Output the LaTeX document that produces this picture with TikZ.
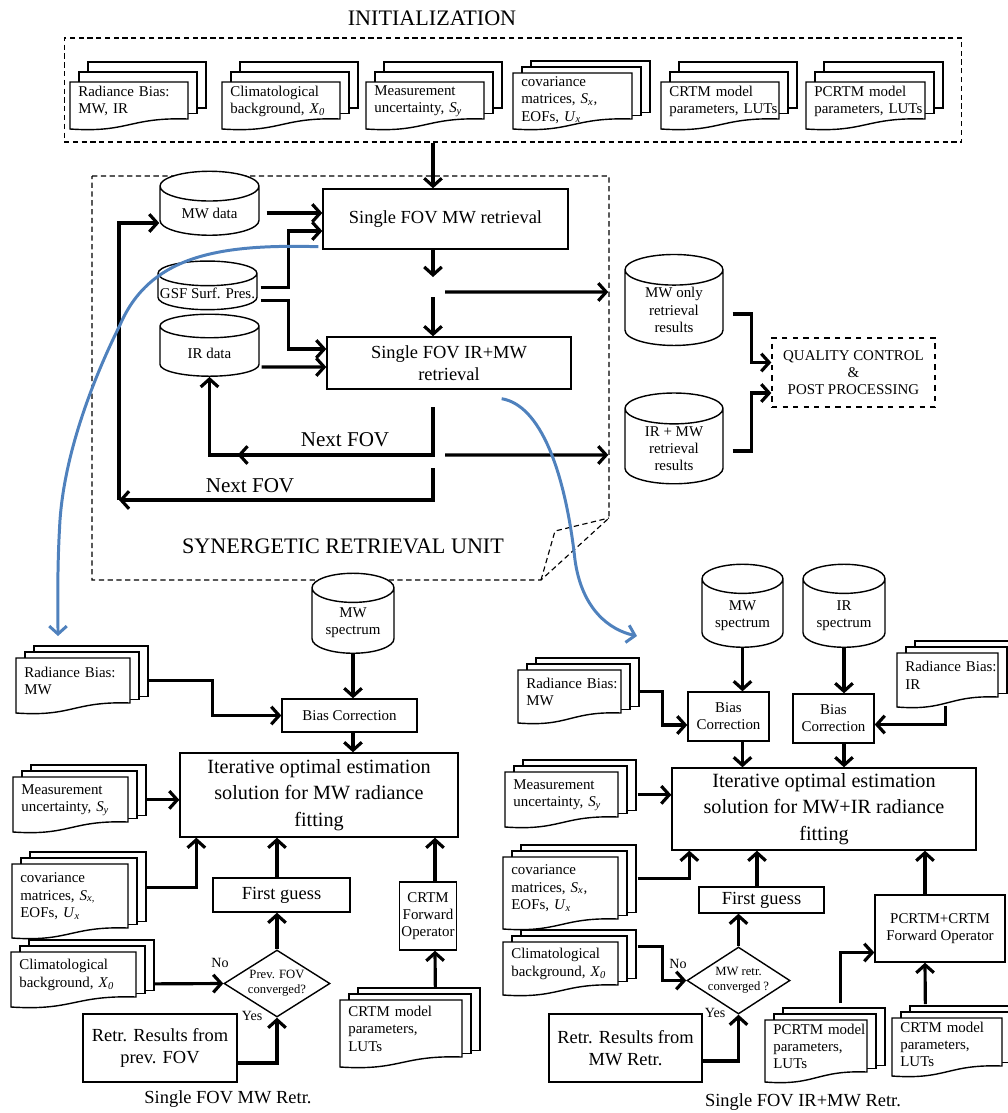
\documentclass[tikz,border=0pt]{standalone}
\usepackage{fontspec}
\setmainfont{Liberation Serif}
\usetikzlibrary{arrows.meta,shapes.geometric,calc}

\definecolor{lensblue}{RGB}{79,129,189}

\newcommand{\smalltxt}{\fontsize{8.5}{9.8}\selectfont}
\newcommand{\tinytxt}{\fontsize{7.2}{8.6}\selectfont}
\newcommand{\yntxt}{\fontsize{8}{9.6}\selectfont}
\newcommand{\boxtxt}{\fontsize{10.5}{12.5}\selectfont}
\newcommand{\bigtxt}{\fontsize{11.5}{15}\selectfont}
\newcommand{\nexttxt}{\fontsize{12}{14}\selectfont}
\newcommand{\titletxt}{\fontsize{12.6}{15}\selectfont}
\newcommand{\symsub}[2]{\textit{#1}\textsubscript{\textit{#2}}}

\tikzset{
  >={Straight Barb[length=4.5pt,width=10pt]},
  arr/.style={->, line width=1.8pt},
  box/.style={draw, line width=0.8pt, fill=white, align=center, inner sep=1pt},
  db/.style={cylinder, shape border rotate=90, aspect=0.5, draw, line width=0.8pt,
    fill=white, align=center, inner sep=1pt, font=\smalltxt},
  ask/.style={diamond, aspect=1.6, draw, line width=0.8pt, fill=white, align=center,
    inner sep=0pt, font=\tinytxt},
  frame/.style={draw, dash pattern=on 3pt off 2pt, line width=0.65pt},
  lens/.style={->, line width=1.7pt, draw=lensblue},
  sheet/.style={draw, line width=0.8pt, fill=white},
  doctext/.style={align=left, inner xsep=0pt, inner ysep=2pt, anchor=north west, font=\smalltxt},
}

% stack of documents: [dy]{name}{x}{y}{width}{height}{text}
\newcommand{\docstack}[7][-6]{%
  \foreach \k in {2,1}{%
    \draw[sheet] ({#3+9*\k},{#4+(#1)*\k}) rectangle ({#3+#5+9*\k},{#4+#6+0.55*(#1)*\k});
  }
  \draw[sheet] ({#3},{#4+#6+10}) -- ({#3},{#4}) -- ({#3+#5},{#4}) -- ({#3+#5},{#4+#6})
    .. controls ({#3+0.5*#5},{#4+#6-2}) and ({#3+0.5*#5},{#4+#6+14}) .. ({#3},{#4+#6+10}) -- cycle;
  \pgfmathsetmacro{\dtw}{(#5-8)*0.02}
  \pgfmathsetmacro{\dth}{#6*0.02}
  \node[doctext, text width=\dtw cm, minimum height=\dth cm] (#2) at ({#3+8},{#4}) {#7};
}

\begin{document}
\begin{tikzpicture}[x=0.02cm, y=-0.02cm]
\useasboundingbox (0,0) rectangle (1008,1113);

\node[font=\titletxt] (initlbl) at (432,18) {INITIALIZATION};
\node[frame, minimum width=17.96cm, minimum height=2.08cm] (init) at (513,90) {};
\docstack[-10]{radI}{70}{82}{118}{37}{Radiance~Bias:\\MW, IR}
\docstack[-10]{climI}{222}{82}{118}{37}{Climatological\\background,~\symsub{X}{0}}
\docstack[-10]{measI}{366}{82}{118}{37}{Measurement\\uncertainty,~\symsub{S}{y}}
\docstack{covI}{513}{73}{119}{46}{covariance\\matrices,~\symsub{S}{x},\\EOFs,~\symsub{U}{x}}
\docstack[-10]{crtmI}{661}{82}{118}{37}{CRTM~model\\parameters,~LUTs}
\docstack[-10]{pcrtmI}{806}{82}{119}{37}{PCRTM~model\\parameters,~LUTs}

\draw[frame] (92,176) -- (609,176) -- (609,518) -- (541,580) -- (92,580) -- cycle;
\draw[frame] (541,580) -- (555,531) -- (609,518);
\node[font=\titletxt] (srulbl) at (343,546) {SYNERGETIC RETRIEVAL UNIT};

\node[db, minimum width=1.98cm, minimum height=1.28cm] (mwdata) at (209.5,213) {MW data};
\node[db, aspect=0.25, minimum width=1.98cm, minimum height=0.94cm] (gsf) at (207.5,293.5) {GSF Surf. Pres.};
\node[db, minimum width=1.98cm, minimum height=1.24cm] (irdata) at (209.5,353) {IR data};
\node[box, font=\boxtxt, minimum width=4.9cm, minimum height=1.2cm] (mwret) at (445.5,219) {Single FOV MW retrieval};
\node[box, font=\boxtxt, minimum width=4.88cm, minimum height=1.04cm] (irmwret) at (449,363) {Single FOV IR+MW\\retrieval};
\node[db, minimum width=1.96cm, minimum height=1.64cm] (mwonly) at (674,310) {MW only\\retrieval\\results};
\node[db, minimum width=1.96cm, minimum height=1.66cm] (irmwres) at (674,448.5) {IR + MW\\retrieval\\results};
\node[box, dashed, font=\smalltxt, minimum width=3.26cm, minimum height=1.38cm] (qc) at (853.5,372.5) {QUALITY CONTROL\\\&\\POST PROCESSING};

\coordinate (vx) at (433,0);
\coordinate (gapA) at (433,277);
\coordinate (gapB) at (433,297);
\coordinate (gapC) at (445,292);
\coordinate (nfA) at (433,407);
\coordinate (nfB) at (433,455);
\coordinate (nfC) at (433,468);
\coordinate (nfD) at (119,500);
\draw[arr] (init.south -| vx) -- (mwret.north -| vx);
\draw[arr] ($(mwdata.east)+(7,0)$) -- (mwret.west |- mwdata.east);
\draw[arr] ($(gsf.east)+(3,-6)$) -| ($(mwret.west)+(-34,12)$) -- ($(mwret.west)+(0,12)$);
\draw[arr] ($(gsf.east)+(3,7)$) -| ($(irmwret.west)+(-38,-14)$) -- ($(irmwret.west)+(0,-14)$);
\draw[arr] ($(irdata.east)+(2,14)$) -- ($(irmwret.west)+(0,4)$);
\draw[arr] (mwret.south -| vx) -- (gapA);
\draw[arr] (gapB) -- (irmwret.north -| vx);
\draw[arr] (gapC) -- ($(mwonly.west)+(-16,-18)$);
\draw[arr] (nfA) |- (irdata.south |- nfB) -- (irdata.south);
\draw[arr] (nfB) -- ($(irdata.south |- nfB)+(28,0)$);
\node[font=\nexttxt] (nextA) at (345,440) {Next FOV};
\draw[arr] (nfC) |- (nfD);
\draw[arr] (nfD) |- ($(mwdata.west)+(0,10)$);
\node[font=\nexttxt] (nextB) at (250,486) {Next FOV};
\draw[arr] ($(nfB)+(12,0)$) -- ($(irmwres.west)+(-16,6.5)$);
\draw[arr] ($(mwonly.east)+(9,4)$) -| ($(qc.west)+(-20,-10)$) -- ($(qc.west)+(0,-10)$);
\draw[arr] ($(irmwres.east)+(9,2.5)$) -| ($(qc.west)+(-20,20.5)$) -- ($(qc.west)+(0,20.5)$);

\node[db, minimum width=1.64cm, minimum height=1.6cm] (mwspecL) at (353,623) {MW\\spectrum};
\node[box, font=\smalltxt, minimum width=2.7cm, minimum height=0.66cm] (biasL) at (349.5,715.5) {Bias Correction};
\node[box, font=\bigtxt, minimum width=5.56cm, minimum height=1.68cm] (iterL) at (319,795) {Iterative optimal estimation\\solution for MW radiance\\fitting};
\node[box, font=\boxtxt, minimum width=2.74cm, minimum height=0.68cm] (fgL) at (281.5,895) {First guess};
\node[ask, minimum width=2.12cm, minimum height=1.34cm] (diaL) at (277,983.5) {Prev. FOV\\converged?};
\node[box, font=\boxtxt, minimum width=3.08cm, minimum height=1.36cm] (retrL) at (160,1048) {Retr. Results from\\prev. FOV};
\node[box, font=\smalltxt, minimum width=1.14cm, minimum height=1.36cm, inner sep=0pt] (crtmfwdL) at (428,916) {CRTM\\Forward\\Operator};
\node[font=\boxtxt] (panelL) at (228,1099) {Single FOV MW Retr.};
\docstack{radL}{16}{658}{114}{45}{Radiance~Bias:\\MW}
\docstack{measL}{13}{777}{115}{45}{Measurement\\uncertainty,~\symsub{S}{y}}
\docstack{covL}{12}{864}{116}{64}{covariance\\matrices,~\symsub{S}{x,}\\EOFs,~\symsub{U}{x}}
\docstack{climL}{11}{952}{125}{45}{Climatological\\background,~\symsub{X}{0}}
\docstack{crtmL}{340}{1000}{122}{57}{CRTM~model\\parameters,\\LUTs}

\coordinate (fwdLx) at ($(crtmfwdL.north)+(7,0)$);
\draw[arr] (mwspecL.south) -- (biasL.north -| mwspecL.south);
\draw[arr] (biasL.south -| mwspecL.south) -- (iterL.north -| mwspecL.south);
\draw[arr] ($(radL.east)+(17,0)$) -| ($(biasL.west)+(-69,0)$) -- (biasL.west);
\draw[arr] ($(measL.east)+(18,0)$) -- (iterL.west |- measL.east);
\draw[arr] ($(covL.east)+(18,-9)$) -| ($(iterL.south west)+(17,0)$);
\draw[arr] ($(climL.east)+(18,9)$) -- (diaL.west);
\node[font=\yntxt] (noL) at (220,963) {No};
\draw[arr] (diaL.north) -- (fgL.south -| diaL.north);
\draw[arr] (fgL.north -| diaL.north) -- (iterL.south -| diaL.north);
\draw[arr] ($(retrL.east)+(0,15)$) -| (diaL.south);
\node[font=\yntxt] (yesL) at (252,1016) {Yes};
\draw[arr] ($(crtmL.north)+(30,-12)$) -- (crtmfwdL.south -| fwdLx);
\draw[arr] (fwdLx) -- (iterL.south -| fwdLx);

\node[db, minimum width=1.62cm, minimum height=1.66cm] (mwspecR) at (742.5,615.5) {MW\\spectrum};
\node[db, minimum width=1.64cm, minimum height=1.66cm] (irspecR) at (844,615.5) {IR\\spectrum};
\node[box, font=\smalltxt, minimum width=1.62cm, minimum height=0.98cm] (biasR1) at (728.5,716.5) {Bias\\Correction};
\node[box, font=\smalltxt, minimum width=1.62cm, minimum height=0.98cm] (biasR2) at (833.5,718.5) {Bias\\Correction};
\node[box, font=\bigtxt, minimum width=6.08cm, minimum height=1.64cm] (iterR) at (824,809) {Iterative optimal estimation\\solution for MW+IR radiance\\fitting};
\node[box, font=\boxtxt, minimum width=2.5cm, minimum height=0.52cm] (fgR) at (761.5,900) {First guess};
\node[ask, minimum width=2.06cm, minimum height=1.34cm] (diaR) at (738.5,980.5) {MW retr.\\converged ?};
\node[box, font=\boxtxt, minimum width=3.06cm, minimum height=1.36cm] (retrR) at (625.5,1048) {Retr. Results from\\MW Retr.};
\node[box, font=\smalltxt, minimum width=2.6cm, minimum height=1.34cm] (pcrtmfwd) at (940,928.5) {PCRTM+CRTM\\Forward Operator};
\node[font=\boxtxt] (panelR) at (803,1102) {Single FOV IR+MW Retr.};
\docstack{radR}{518}{670}{103}{43}{Radiance~Bias:\\MW}
\docstack{radIR}{897}{653}{101}{44}{Radiance~Bias:\\IR}
\docstack{measR}{505}{772}{113}{45}{Measurement\\uncertainty,~\symsub{S}{y}}
\docstack{covR}{503}{857}{115}{62}{covariance\\matrices,~\symsub{S}{x},\\EOFs,~\symsub{U}{x}}
\docstack{climR}{503}{942}{115}{43}{Climatological\\background,~\symsub{X}{0}}
\docstack{pcrtmR}{765}{1020}{102}{52}{PCRTM~model\\parameters,\\LUTs}
\docstack{crtmR}{892}{1018}{110}{48}{CRTM~model\\parameters,\\LUTs}

\coordinate (fgRx) at ($(fgR.north)+(-4.5,0)$);
\coordinate (fwdRx) at ($(pcrtmfwd.south)+(-15,0)$);
\draw[arr] (mwspecR.south) -- (biasR1.north -| mwspecR.south);
\draw[arr] (irspecR.south) -- (biasR2.north -| irspecR.south);
\draw[arr] (biasR1.south -| mwspecR.south) -- (iterR.north -| mwspecR.south);
\draw[arr] (biasR2.south -| irspecR.south) -- (iterR.north -| irspecR.south);
\draw[arr] ($(radR.east)+(16,0)$) -| ($(biasR1.west)+(-25,8.5)$) -- ($(biasR1.west)+(0,8.5)$);
\draw[arr] ($(radIR.south)+(-6,8)$) |- ($(biasR2.east)+(0,6)$);
\draw[arr] ($(measR.east)+(19,0)$) -- (iterR.west |- measR.east);
\draw[arr] ($(covR.east)+(19,-10)$) -| ($(iterR.south west)+(18,0)$);
\draw[arr] ($(climR.east)+(19,-17)$) -| ($(diaR.west)+(-24,0)$) -- (diaR.west);
\node[font=\yntxt] (noR) at (678,964) {No};
\draw[arr] (diaR.north) -- (fgR.south -| diaR.north);
\draw[arr] (fgRx) -- (iterR.south -| fgRx);
\draw[arr] ($(retrR.east)+(0,13)$) -| (diaR.south);
\node[font=\yntxt] (yesR) at (715,1013) {Yes};
\draw[arr] ($(pcrtmR.north)+(20,-17)$) |- ($(pcrtmfwd.west)+(0,24)$);
\draw[arr] ($(crtmR.north)+(-26,-14)$) -- (fwdRx);
\draw[arr] (pcrtmfwd.north -| fwdRx) -- (iterR.south -| fwdRx);

\coordinate (lensL) at (58,636);
\coordinate (lensR) at (637,636);
\draw[lens] ($(mwret.south west)+(-4,-3)$) .. controls (220,244) and (150,255) .. (120,325)
  .. controls (95,375) and (65,450) .. (60,520) .. controls (57,570) and (58,600) .. (lensL);
\draw[lens] ($(irmwret.south east)+(-70,9)$) .. controls (540,405) and (565,470) .. (575,560)
  .. controls (582,610) and (610,630) .. (lensR);
\end{tikzpicture}
\end{document}
